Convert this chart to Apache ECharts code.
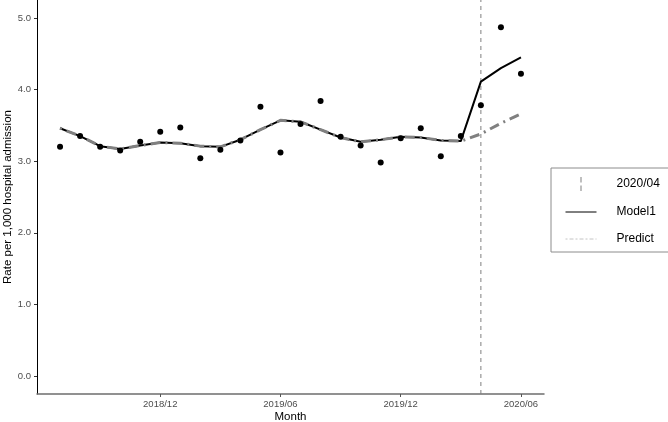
<!DOCTYPE html>
<html>
<head>
<meta charset="utf-8">
<script src="https://cdn.jsdelivr.net/npm/echarts@6/dist/echarts.min.js"></script>
<style>
  html, body { margin: 0; padding: 0; background: #fff; }
  #chart { width: 668px; height: 422px; }
</style>
</head>
<body>
<div id="chart"></div>
<script>
// months on the x axis, 2018/07 .. 2020/06
const months = [
  '2018/07', '2018/08', '2018/09', '2018/10', '2018/11', '2018/12',
  '2019/01', '2019/02', '2019/03', '2019/04', '2019/05', '2019/06',
  '2019/07', '2019/08', '2019/09', '2019/10', '2019/11', '2019/12',
  '2020/01', '2020/02', '2020/03', '2020/04', '2020/05', '2020/06'
];
const tickMonths = ['2018/12', '2019/06', '2019/12', '2020/06'];
const yTicks = [0, 1, 2, 3, 4, 5];
const breakMonth = '2020/04';

// observed rates (dots)
const observed = [
  3.20, 3.35, 3.20, 3.15, 3.27, 3.41, 3.47, 3.04, 3.16, 3.29, 3.76, 3.12,
  3.52, 3.84, 3.34, 3.22, 2.98, 3.32, 3.46, 3.07, 3.35, 3.78, 4.87, 4.22
];
// fitted model
const model1 = [
  3.46, 3.35, 3.21, 3.17, 3.22, 3.26, 3.25, 3.21, 3.20, 3.30, 3.44, 3.57,
  3.55, 3.44, 3.33, 3.27, 3.30, 3.34, 3.33, 3.29, 3.28, 4.11, 4.30, 4.45
];
// counterfactual prediction
const predict = [
  3.46, 3.35, 3.21, 3.17, 3.22, 3.26, 3.25, 3.21, 3.20, 3.30, 3.44, 3.57,
  3.55, 3.44, 3.33, 3.27, 3.30, 3.34, 3.33, 3.29, 3.28, 3.38, 3.53, 3.66
];

const font = 'Liberation Sans, Arial, Helvetica, sans-serif';
const pair = (arr) => arr.map((v, i) => [i, v]);
const breakIdx = months.indexOf(breakMonth);

const chart = echarts.init(document.getElementById('chart'));

chart.setOption({
  animation: false,
  backgroundColor: '#fff',
  grid: { left: 37, right: 124, top: 0, bottom: 28, containLabel: false, outerBoundsMode: 'none' },
  legend: {
    orient: 'vertical',
    left: 551,
    top: 168,
    padding: [9, 60, 7, 14],
    itemWidth: 31,
    itemHeight: 14,
    itemGap: 15,
    borderColor: '#8c8c8c',
    borderWidth: 1,
    textStyle: { fontFamily: font, fontSize: 12, color: '#000', padding: [0, 0, 0, 15] },
    data: [
      { name: '2020/04', icon: 'path://M0,0h1v5.5h-1z M0,8.5h1v5.5h-1z', itemStyle: { color: '#808080' } },
      { name: 'Model1', itemStyle: { opacity: 0 }, lineStyle: { width: 1, color: '#000' } },
      { name: 'Predict', itemStyle: { opacity: 0 }, lineStyle: { width: 1, color: '#c4c4c4', type: [2, 2, 4, 2] } }
    ]
  },
  xAxis: {
    type: 'value',
    min: -1.15,
    max: 24.15,
    name: 'Month',
    nameLocation: 'middle',
    nameGap: 17,
    nameMoveOverlap: false,
    nameTextStyle: { fontFamily: font, fontSize: 11.5, color: '#000' },
    splitLine: { show: false },
    axisLine: { onZero: false, lineStyle: { color: '#6e6e6e', width: 1.5 } },
    axisTick: {
      length: 3,
      lineStyle: { color: '#555' },
      customValues: tickMonths.map((m) => months.indexOf(m))
    },
    axisLabel: {
      fontFamily: font,
      fontSize: 9.5,
      color: '#4d4d4d',
      margin: 5,
      customValues: tickMonths.map((m) => months.indexOf(m)),
      formatter: (v) => months[Math.round(v)]
    }
  },
  yAxis: {
    type: 'value',
    min: -0.25,
    max: 5.25,
    name: 'Rate per 1,000 hospital admission',
    nameLocation: 'middle',
    nameGap: 23,
    nameMoveOverlap: false,
    nameTextStyle: { fontFamily: font, fontSize: 11.5, color: '#000' },
    splitLine: { show: false },
    axisLine: { show: true, onZero: false, lineStyle: { color: '#000', width: 1 } },
    axisTick: { show: true, length: 3, lineStyle: { color: '#333' }, customValues: yTicks },
    axisLabel: {
      fontFamily: font,
      fontSize: 9.5,
      color: '#4d4d4d',
      margin: 6,
      customValues: yTicks,
      formatter: (v) => v.toFixed(1)
    }
  },
  series: [
    {
      name: '2020/04',
      type: 'line',
      data: [[breakIdx, -0.25], [breakIdx, 5.25]],
      symbol: 'none',
      color: '#808080',
      lineStyle: { color: '#808080', width: 1, type: [4, 4] },
      z: 1
    },
    {
      name: 'Observed',
      type: 'scatter',
      data: pair(observed),
      symbol: 'circle',
      symbolSize: 6,
      itemStyle: { color: '#000', opacity: 1 },
      z: 3
    },
    {
      name: 'Model1',
      type: 'line',
      data: pair(model1),
      symbol: 'none',
      color: '#000',
      lineStyle: { color: '#000', width: 2 },
      z: 2
    },
    {
      name: 'Predict',
      type: 'line',
      data: pair(predict),
      symbol: 'none',
      color: '#808080',
      lineStyle: { color: '#808080', width: 3, type: [2, 5, 10, 5] },
      z: 2
    }
  ]
});
</script>
</body>
</html>
